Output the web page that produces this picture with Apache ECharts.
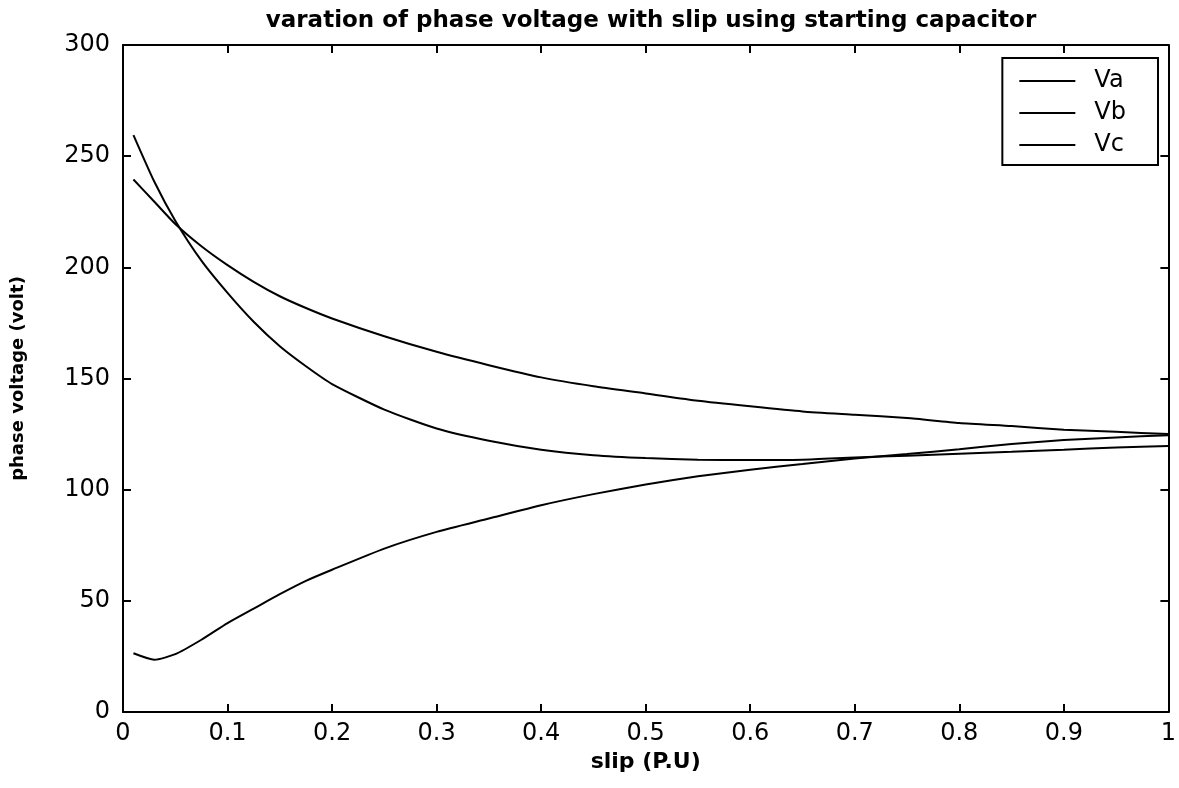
<!DOCTYPE html>
<html>
<head>
<meta charset="utf-8">
<script src="https://cdn.jsdelivr.net/npm/echarts@6/dist/echarts.min.js"></script>
<style>
  html, body { margin: 0; padding: 0; background: #fff; }
  #chart { width: 1179px; height: 788px; }
</style>
</head>
<body>
<div id="chart"></div>
<script>
// slip (P.U) sample points
const slip = [0.01, 0.03, 0.05, 0.075, 0.1, 0.125, 0.15, 0.175, 0.2, 0.25, 0.3, 0.35, 0.4,
              0.45, 0.5, 0.55, 0.6, 0.65, 0.7, 0.75, 0.8, 0.85, 0.9, 0.95, 1.0];

// phase voltages (volt)
const Va = [239.5, 229.5, 219.5, 209.5, 201, 193.5, 187, 181.7, 177, 169, 162, 156, 150.5,
            146.5, 143.3, 140, 137.5, 135.2, 133.7, 132.2, 130, 128.6, 127, 126, 125];
const Vb = [259.5, 238.5, 221, 203, 188.5, 175.5, 164.5, 155.5, 147.5, 136, 127.5, 122, 118,
            115.5, 114.2, 113.5, 113.3, 113.5, 114.5, 115.3, 116.2, 117, 118, 119, 119.6];
const Vc = [26.4, 23.5, 26, 32.5, 40, 46.5, 53, 59, 64, 73.5, 81, 87, 93,
            98, 102.3, 106, 109, 111.5, 114, 116, 118.2, 120.5, 122.3, 123.5, 124.5];

const seriesNames = ['Va', 'Vb', 'Vc'];
const seriesValues = [Va, Vb, Vc];

const xTicks = { min: 0, max: 1, interval: 0.1 };
const yTicks = { min: 0, max: 300, interval: 50 };

const FONT = 'DejaVu Sans, Verdana, sans-serif';

const chart = echarts.init(document.getElementById('chart'), null, { renderer: 'canvas' });

function pairs(values) {
  return slip.map((s, i) => [s, values[i]]);
}

const baseAxis = {
  axisLine: { show: true, onZero: false, lineStyle: { color: '#000', width: 2 } },
  axisTick: { show: true, inside: true, length: 8, lineStyle: { color: '#000', width: 2 } },
  splitLine: { show: false }
};

chart.setOption({
  backgroundColor: '#fff',
  animation: false,
  title: {
    text: 'varation of phase voltage with slip using starting capacitor',
    left: 646,
    textAlign: 'center',
    top: 5,
    textStyle: { fontFamily: FONT, fontSize: 23, fontWeight: 'bold', color: '#000' }
  },
  legend: {
    data: seriesNames,
    right: 21,
    top: 58,
    orient: 'vertical',
    icon: 'rect',
    itemWidth: 56,
    itemHeight: 2,
    itemGap: 8,
    padding: [11, 32, 8, 17],
    borderColor: '#000',
    borderWidth: 2,
    backgroundColor: '#fff',
    textStyle: { fontFamily: FONT, fontSize: 24, color: '#000', padding: [0, 0, 0, 14] }
  },
  grid: { left: 123, right: 10, top: 45, bottom: 76 },
  xAxis: [
    Object.assign({}, baseAxis, {
      type: 'value', position: 'bottom',
      min: xTicks.min, max: xTicks.max, interval: xTicks.interval,
      name: 'slip (P.U)', nameLocation: 'middle', nameGap: 36,
      nameTextStyle: { fontFamily: FONT, fontSize: 22, fontWeight: 'bold', color: '#000' },
      axisLabel: { fontFamily: FONT, fontSize: 24, color: '#000', margin: 10 }
    }),
    Object.assign({}, baseAxis, {
      type: 'value', position: 'top',
      min: xTicks.min, max: xTicks.max, interval: xTicks.interval,
      axisLabel: { show: false }
    })
  ],
  yAxis: [
    Object.assign({}, baseAxis, {
      type: 'value', position: 'left',
      min: yTicks.min, max: yTicks.max, interval: yTicks.interval,
      name: 'phase voltage (volt)', nameLocation: 'middle', nameGap: 96,
      nameTextStyle: { fontFamily: FONT, fontSize: 18, fontWeight: 'bold', color: '#000' },
      axisLabel: { fontFamily: FONT, fontSize: 24, color: '#000', margin: 13 }
    }),
    Object.assign({}, baseAxis, {
      type: 'value', position: 'right',
      min: yTicks.min, max: yTicks.max, interval: yTicks.interval,
      axisLabel: { show: false }
    })
  ],
  series: seriesNames.map((name, i) => ({
    name: name,
    type: 'line',
    xAxisIndex: 0,
    yAxisIndex: 0,
    data: pairs(seriesValues[i]),
    smooth: 0.2,
    symbol: 'none',
    lineStyle: { color: '#000', width: 2 },
    itemStyle: { color: '#000' }
  }))
});
</script>
</body>
</html>
